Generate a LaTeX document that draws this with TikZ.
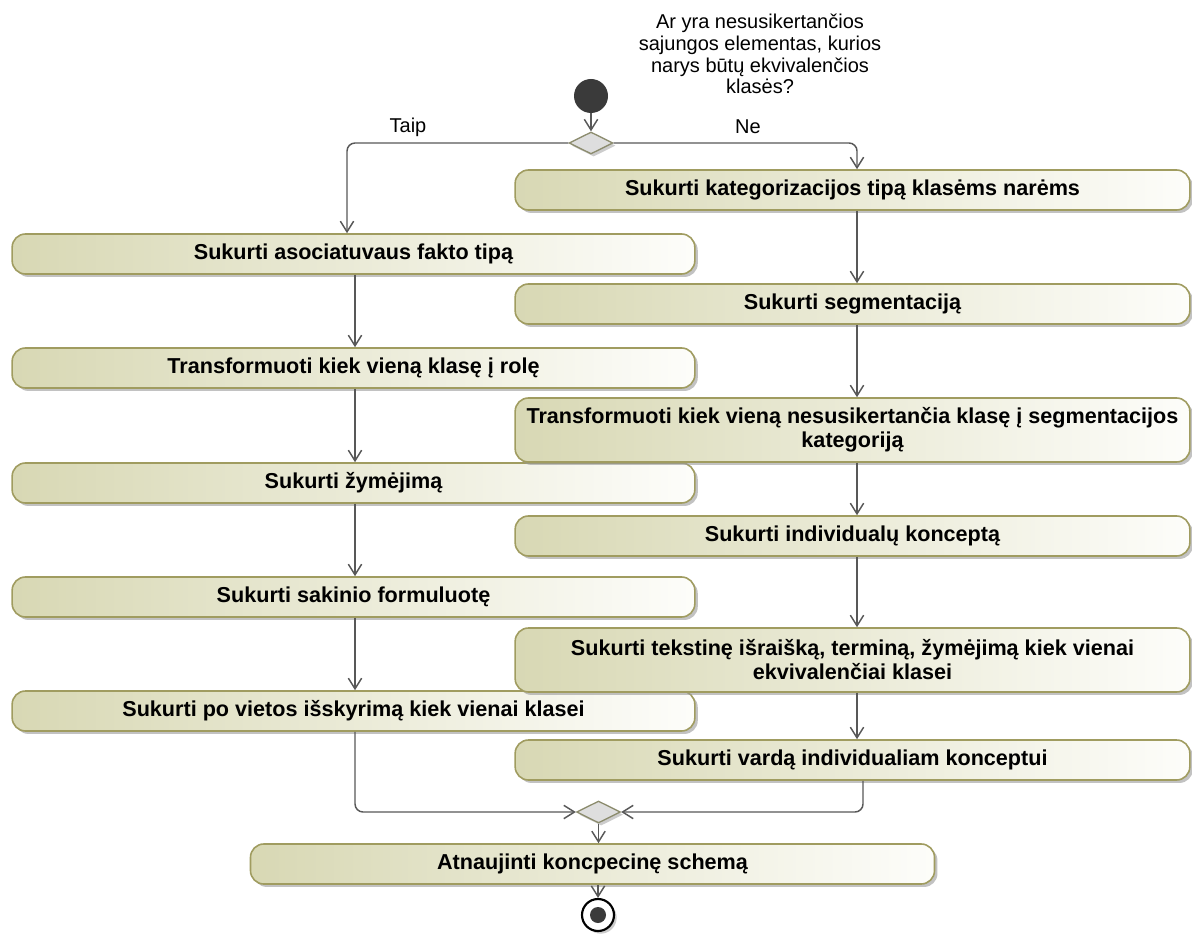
\documentclass[tikz,border=0pt]{standalone}
\usepackage{fontspec}
\setmainfont{Liberation Sans}
\usetikzlibrary{arrows.meta,shapes.geometric,shadows}

\definecolor{actborder}{RGB}{160,156,96}
\definecolor{actleft}{RGB}{216,216,180}
\definecolor{actright}{RGB}{253,253,250}
\definecolor{flowgray}{RGB}{88,88,88}
\definecolor{nodedark}{RGB}{58,58,58}
\definecolor{diafill}{RGB}{222,222,222}
\definecolor{diaborder}{RGB}{140,140,110}

\begin{document}
\begin{tikzpicture}[x=0.75pt,y=-0.75pt,
  act/.style={draw=actborder, line width=1.2pt, rounded corners=10pt,
    left color=actleft, right color=actright, minimum height=30pt,
    align=center, inner sep=2pt,
    font=\bfseries\fontsize{16.2}{18}\selectfont,
    drop shadow={shadow xshift=2.2pt, shadow yshift=-2.2pt, fill=black!40, opacity=0.6}},
  leftact/.style={act, minimum width=512pt},
  rightact/.style={act, minimum width=506pt},
  twoline/.style={minimum height=48pt},
  decision/.style={diamond, aspect=2, draw=diaborder, line width=1pt, fill=diafill,
    minimum width=33pt, minimum height=16.5pt, inner sep=0pt,
    drop shadow={shadow xshift=2pt, shadow yshift=-2pt, fill=black!40, opacity=0.5}},
  initial/.style={circle, fill=nodedark, minimum size=25.5pt, inner sep=0pt},
  finalring/.style={circle, draw=black, line width=1.6pt, fill=white, minimum size=24pt, inner sep=0pt,
    drop shadow={shadow xshift=2pt, shadow yshift=-2pt, fill=black!40, opacity=0.5}},
  finaldot/.style={circle, fill=nodedark, minimum size=12pt, inner sep=0pt},
  flow/.style={draw=flowgray, line width=1.1pt, rounded corners=6pt,
    -{Straight Barb[length=8pt,width=10pt]}},
  guard/.style={font=\fontsize{15}{18}\selectfont},
  note/.style={align=center, font=\fontsize{15}{16.3}\selectfont}
]
\useasboundingbox (0,0) rectangle (1192,934);

% start and first decision
\node[initial] (init) at (591,96) {};
\node[decision] (dec) at (591,143) {};
\node[note] (question) at (760,54) {Ar yra nesusikertančios\\sajungos elementas, kurios\\narys būtų ekvivalenčios\\klasės?};
\node[guard] (taip) at (408,127) {Taip};
\node[guard] (ne) at (748,127) {Ne};

% left branch
\node[leftact] (L1) at (353.5,254) {Sukurti asociatuvaus fakto tipą};
\node[leftact] (L2) at (353.5,368) {Transformuoti kiek vieną klasę į rolę};
\node[leftact] (L3) at (353.5,483) {Sukurti žymėjimą};
\node[leftact] (L4) at (353.5,597) {Sukurti sakinio formuluotę};
\node[leftact] (L5) at (353.5,711) {Sukurti po vietos išskyrimą kiek vienai klasei};

% right branch
\node[rightact] (R1) at (852.5,190) {Sukurti kategorizacijos tipą klasėms narėms};
\node[rightact] (R2) at (852.5,304) {Sukurti segmentaciją};
\node[rightact,twoline] (R3) at (852.5,430) {Transformuoti kiek vieną nesusikertančia klasę į segmentacijos\\kategoriją};
\node[rightact] (R4) at (852.5,536) {Sukurti individualų konceptą};
\node[rightact,twoline] (R5) at (852.5,660) {Sukurti tekstinę išraišką, terminą, žymėjimą kiek vienai\\ekvivalenčiai klasei};
\node[rightact] (R6) at (852.5,760) {Sukurti vardą individualiam konceptui};

% merge and end
\node[decision] (merge) at (598.5,812) {};
\node[act, minimum width=513pt] (fin) at (592.5,864) {Atnaujinti koncpecinę schemą};
\node[finalring] (end) at (598,915) {};
\node[finaldot] (enddot) at (end.center) {};

% columns used by the connectors
\coordinate (lb) at (347,0);
\coordinate (lx) at (355,0);
\coordinate (rx) at (857,0);
\coordinate (rm) at (863,0);

% connectors
\draw[flow] (init.south) -- (dec.north);
\draw[flow] (dec.west) -| (L1.north -| lb);
\draw[flow] (dec.east) -| (R1.north -| rx);
\draw[flow] (L1.south -| lx) -- (L2.north -| lx);
\draw[flow] (L2.south -| lx) -- (L3.north -| lx);
\draw[flow] (L3.south -| lx) -- (L4.north -| lx);
\draw[flow] (L4.south -| lx) -- (L5.north -| lx);
\draw[flow] (R1.south -| rx) -- (R2.north -| rx);
\draw[flow] (R2.south -| rx) -- (R3.north -| rx);
\draw[flow] (R3.south -| rx) -- (R4.north -| rx);
\draw[flow] (R4.south -| rx) -- (R5.north -| rx);
\draw[flow] (R5.south -| rx) -- (R6.north -| rx);
\draw[flow] (L5.south -| lx) |- (merge.west);
\draw[flow] (R6.south -| rm) |- (merge.east);
\draw[flow] (merge.south) -- (merge.south |- fin.north);
\draw[flow] (fin.south -| end) -- (end.north);
\end{tikzpicture}
\end{document}
